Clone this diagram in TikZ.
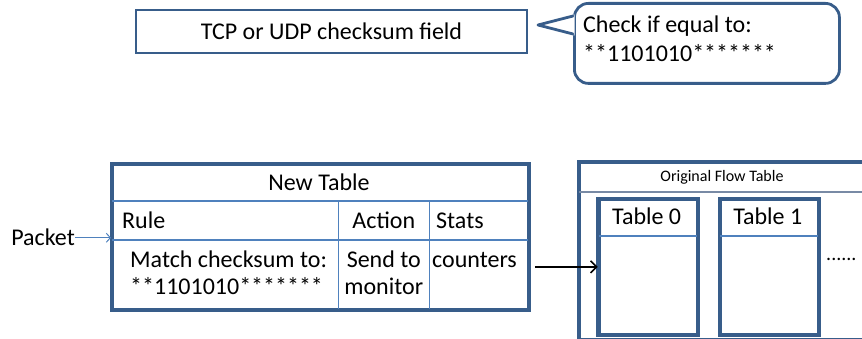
\documentclass[tikz,border=0pt]{standalone}
\usepackage{fontspec}
\setmainfont{Carlito}
\usetikzlibrary{arrows.meta,calc}
\definecolor{edgeblue}{RGB}{56,93,138}
\definecolor{thinblue}{RGB}{79,129,189}
\definecolor{rulegray}{RGB}{120,138,165}
\begin{document}
\begin{tikzpicture}[x=1pt,y=-1pt,
  frame/.style={draw=edgeblue,line width=2.8pt,fill=white,inner sep=0pt,anchor=north west},
  border/.style={draw=edgeblue,line width=2.8pt},
  divider/.style={draw=thinblue,line width=1.5pt},
  txt/.style={font=\fontsize{24}{27}\selectfont,inner sep=0pt},
  small/.style={font=\fontsize{16}{19}\selectfont,inner sep=0pt},
  pktarrow/.style={draw=thinblue,line width=1pt,-{Straight Barb[length=4pt,width=9pt]}},
  feedarrow/.style={draw=black,line width=1.6pt,-{Straight Barb[length=6pt,width=12pt]}}
]
\useasboundingbox (0,0) rectangle (862,339);
\clip (0,0) rectangle (862,339);

% header field box
\node[frame,anchor=center,minimum width=391pt,minimum height=43pt,txt] (field) at (331.5,31.5) {TCP or UDP checksum field};

% callout with its pointer
\node[frame,rounded corners=14pt,minimum width=265pt,minimum height=80pt] (note) at (573,2) {};
\fill[white] ($(note.north west)+(1.7,12.5)$) -- ($(note.north west)+(-35,23)$) -- ($(note.north west)+(1.7,33.5)$) -- cycle;
\draw[border,line join=round,line cap=round] ($(note.north west)+(0,14)$) -- ($(note.north west)+(-35,23)$) -- ($(note.north west)+(0,32)$);
% multi-line nodes: the base anchor sits on the last line
\node[txt,font=\fontsize{24}{29}\selectfont,anchor=base west,align=left] (chk) at (583,62) {Check if equal to:\\**1101010*******};

% new table
\node[frame,minimum width=416pt,minimum height=145pt] (ntab) at (111,163) {};
\draw[divider] ($(ntab.north west)+(0,38)$) -- ($(ntab.north east)+(0,38)$);
\draw[divider] ($(ntab.north west)+(0,77)$) -- ($(ntab.north east)+(0,77)$);
\draw[divider] ($(ntab.north west)+(227.3,38)$) -- ($(ntab.south west)+(227.3,0)$);
\draw[divider] ($(ntab.north west)+(318.3,38)$) -- ($(ntab.south west)+(318.3,0)$);

\node[txt,anchor=base] (ntabtitle) at (319,191) {New Table};
\node[txt,anchor=base west] (rule) at (122,229) {Rule};
\node[txt,anchor=base] (action) at (383.8,229) {Action};
\node[txt,anchor=base west] (stats) at (436,229) {Stats};
\node[txt,anchor=base west,align=left] (match) at (130,294) {Match checksum to:\\**1101010*******};
\node[txt,anchor=base,align=center] (send) at (383.8,294) {Send to\\monitor};
\node[txt,anchor=base west] (ctr) at (432,267) {counters};

% original flow table
\node[frame,minimum width=292pt,minimum height=177pt] (oft) at (578,161) {};
\draw[draw=rulegray,line width=1.2pt] ($(oft.north west)+(0,31)$) -- ($(oft.north east)+(0,31)$);
\node[small,anchor=base] (ofttitle) at (722,182) {Original Flow Table};

\node[frame,minimum width=98pt,minimum height=135pt] (t0) at (597.7,198) {};
\node[frame,minimum width=97.7pt,minimum height=135pt] (t1) at (719,198) {};
\draw[divider] ($(t0.north west)+(0,38)$) -- ($(t0.north east)+(0,38)$);
\draw[divider] ($(t1.north west)+(0,38)$) -- ($(t1.north east)+(0,38)$);
\node[txt,anchor=base] (t0title) at (646.7,225) {Table 0};
\node[txt,anchor=base] (t1title) at (767.8,225) {Table 1};
\node[font=\fontsize{20}{24}\selectfont,inner sep=0pt,anchor=base west] (more) at (826,260) {......};

% frame outlines on top of the dividers
\foreach \n in {ntab,oft,t0,t1}
  \draw[border] (\n.north west) rectangle (\n.south east);

% incoming packet and hand-off to the flow tables
\node[txt,anchor=base east] (pkt) at (75,246) {Packet};
\draw[pktarrow] (pkt.east) -- (pkt.east -| ntab.west);
\draw[feedarrow] ($(ntab.east |- t0.west)+(5,0)$) -- (t0.west);
\end{tikzpicture}
\end{document}
